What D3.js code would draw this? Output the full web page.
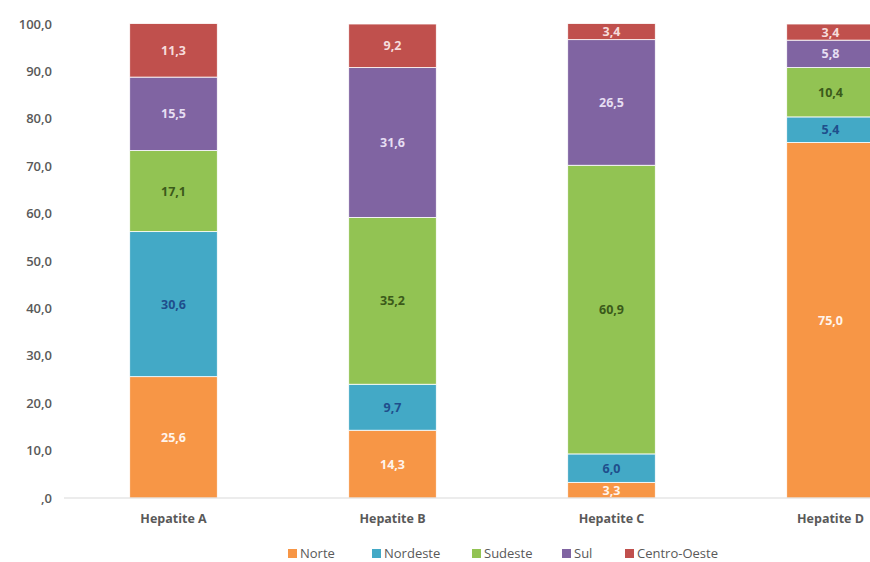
<!DOCTYPE html>
<html>
<head>
<meta charset="utf-8">
<script src="https://cdn.jsdelivr.net/npm/d3@7"></script>
<style>
  body { margin: 0; background: #fff; }
  svg { display: block; }
  svg text { font-family: "Open Sans", "Noto Sans", sans-serif; }
</style>
</head>
<body>
<div id="chart"></div>
<script>
// data
const categories = ["Hepatite A", "Hepatite B", "Hepatite C", "Hepatite D"]
const regions = ["Norte", "Nordeste", "Sudeste", "Sul", "Centro-Oeste"]
const norte = [25.6, 14.3, 3.3, 75.0]
const nordeste = [30.6, 9.7, 6.0, 5.4]
const sudeste = [17.1, 35.2, 60.9, 10.4]
const sul = [15.5, 31.6, 26.5, 5.8]
const centroOeste = [11.3, 9.2, 3.4, 3.4]
const yTicks = [0, 10, 20, 30, 40, 50, 60, 70, 80, 90, 100]

const color = ["#f79646", "#43a9c6", "#92c353", "#8064a2", "#c0504d"]
const labelColor = ["#fff4ec", "#1f4e8c", "#3b5a1a", "#e6def2", "#f6dcdc"]

const width = 870, height = 562
const margin = {top: 24, left: 64}

const series = [norte, nordeste, sudeste, sul, centroOeste]
const rows = categories.map((c, i) => {
  const r = {cat: c}
  regions.forEach((k, j) => r[k] = series[j][i])
  return r
})
const stacked = d3.stack().keys(regions)(rows)

// excel-like category slots of 219px, the last one runs past the right edge
const x = d3.scaleBand()
  .domain(categories)
  .range([margin.left, margin.left + 4 * 219])
  .paddingInner(0.6)
  .paddingOuter(0.3)

const y = d3.scaleLinear()
  .domain([0, 100])
  .range([498, margin.top])

const fmt = v => {
  const s = d3.format(".1f")(v).replace(".", ",")
  return s.startsWith("0,") ? s.slice(1) : s
}

const svg = d3.select("#chart").append("svg")
  .attr("width", width)
  .attr("height", height)
  .attr("viewBox", [0, 0, width, height])

// y axis labels
const yAxis = d3.axisLeft(y).tickValues(yTicks).tickSize(0).tickPadding(12).tickFormat(fmt)
svg.append("g")
  .attr("transform", `translate(${margin.left},0)`)
  .call(yAxis)
  .call(g => g.select(".domain").remove())
  .selectAll("text")
  .style("font-size", "13px")
  .style("font-weight", "600")
  .attr("fill", "#595959")

// bars
const layer = svg.selectAll(".layer")
  .data(stacked)
  .enter().append("g")
  .attr("class", "layer")
  .attr("fill", (d, i) => color[i])

layer.selectAll("rect")
  .data(d => d)
  .enter().append("rect")
  .attr("x", d => x(d.data.cat))
  .attr("y", d => y(d[1]))
  .attr("width", x.bandwidth())
  .attr("height", d => y(d[0]) - y(d[1]))
  .attr("stroke", "#fff")
  .attr("stroke-width", 0.8)

// value labels
stacked.forEach((s, i) => {
  svg.append("g").selectAll("text")
    .data(s)
    .enter().append("text")
    .attr("x", d => x(d.data.cat) + x.bandwidth() / 2)
    .attr("y", d => (y(d[0]) + y(d[1])) / 2)
    .attr("dy", "0.36em")
    .attr("text-anchor", "middle")
    .style("font-size", "12.5px")
    .style("font-weight", "700")
    .attr("fill", labelColor[i])
    .text(d => fmt(d.data[regions[i]]))
})

// x axis
const xAxis = d3.axisBottom(x).tickSize(0).tickPadding(16)
svg.append("g")
  .attr("transform", `translate(0,${y(0)})`)
  .call(xAxis)
  .call(g => g.select(".domain").attr("stroke", "#d9d9d9").attr("stroke-width", 1.2)
    .attr("d", `M${margin.left},0H${width}`))
  .selectAll("text")
  .style("font-size", "12.5px")
  .style("font-weight", "700")
  .attr("fill", "#595959")

// legend
const legendX = [288, 372, 472, 562, 625]
const legend = svg.append("g").attr("transform", "translate(0,553)")
const entry = legend.selectAll(".entry")
  .data(regions)
  .enter().append("g")
  .attr("class", "entry")
  .attr("transform", (d, i) => `translate(${legendX[i]},0)`)
entry.append("rect")
  .attr("x", 0).attr("y", -4)
  .attr("width", 9).attr("height", 9)
  .attr("fill", (d, i) => color[i])
entry.append("text")
  .attr("x", 12)
  .attr("dy", "0.35em")
  .style("font-size", "13px")
  .attr("fill", "#595959")
  .text(d => d)
</script>
</body>
</html>
